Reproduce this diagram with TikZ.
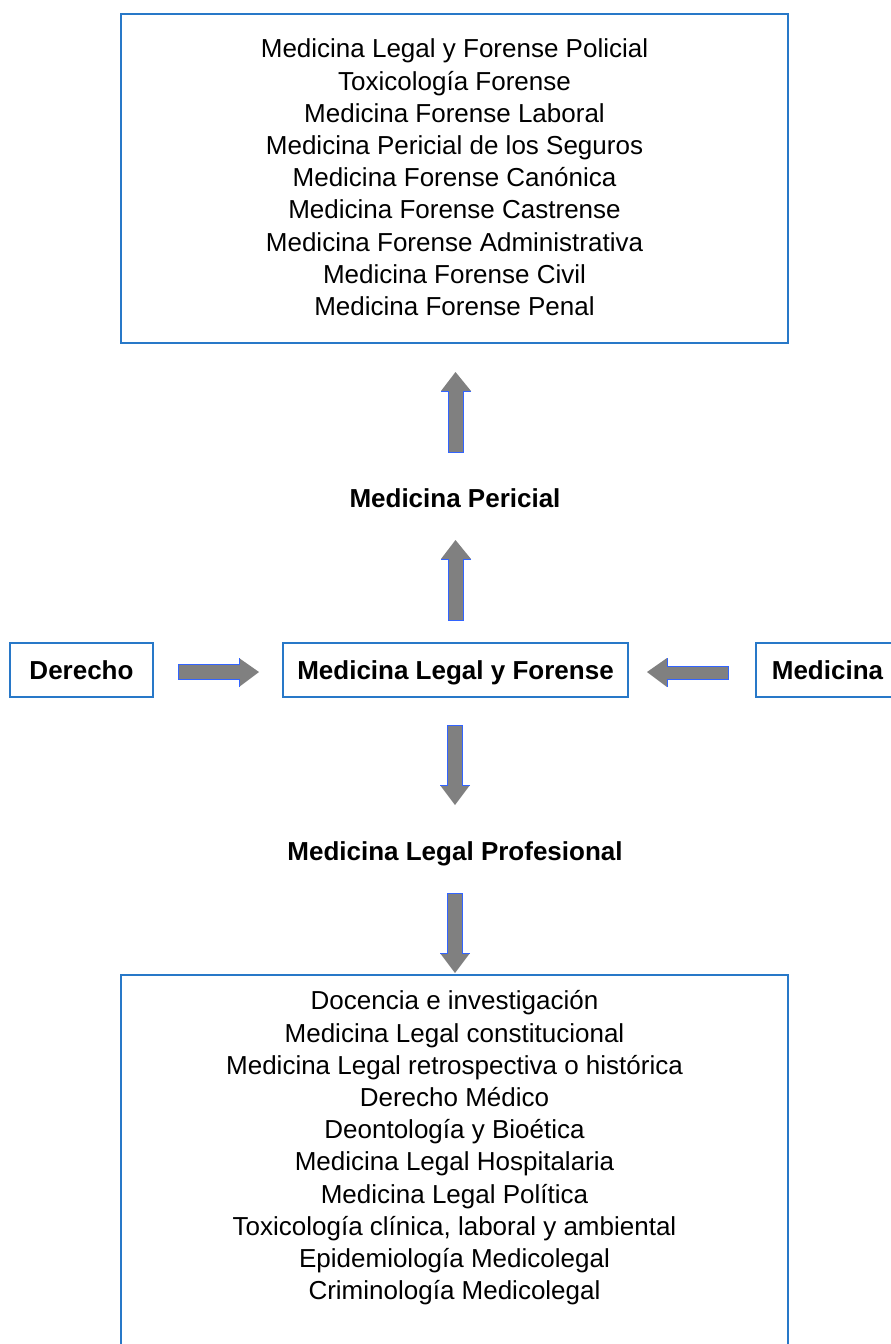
\documentclass[tikz,border=0pt]{standalone}
\usepackage{fontspec}
\setmainfont{Liberation Sans}
\definecolor{boxblue}{RGB}{40,120,200}
\definecolor{arrblue}{RGB}{50,100,255}
\definecolor{arrgray}{RGB}{128,128,128}
\tikzset{
  frame/.style={draw=boxblue, line width=1.4pt},
  listtext/.style={align=center, font=\fontsize{26}{32.2}\selectfont, inner sep=0pt},
  boldtext/.style={font=\fontsize{26}{32.2}\selectfont\bfseries, inner sep=0pt, text height=18.7pt, text depth=0pt},
  midbox/.style={frame, font=\fontsize{26}{32.2}\selectfont\bfseries, inner sep=0pt, minimum height=54pt, text height=18.7pt, text depth=0pt},
  arrfill/.style={fill=arrgray},
  arredge/.style={draw=arrblue, line width=1pt}
}
\begin{document}
\begin{tikzpicture}[x=1pt,y=-1pt]
\clip (0,0) rectangle (891,1344);
\fill[white] (0,0) rectangle (891,1344);
% top box
\draw[frame] (121,14) rectangle (788,343);
\node[listtext] (top) at (454.5,177.5) {Medicina Legal y Forense Policial\\Toxicología Forense\\Medicina Forense Laboral\\Medicina Pericial de los Seguros\\Medicina Forense Canónica\\Medicina Forense Castrense\\Medicina Forense Administrativa\\Medicina Forense Civil\\Medicina Forense Penal};
% bottom box
\draw[frame] (121,975) rectangle (788,1370);
\node[listtext] (bot) at (454.5,1148) {Docencia e investigación\\Medicina Legal constitucional\\Medicina Legal retrospectiva o histórica\\Derecho Médico\\Deontología y Bioética\\Medicina Legal Hospitalaria\\Medicina Legal Política\\Toxicología clínica, laboral y ambiental\\Epidemiología Medicolegal\\Criminología Medicolegal};
% labels
\node[boldtext] (peri) at (455,498) {Medicina Pericial};
\node[boldtext] (prof) at (455,851) {Medicina Legal Profesional};
% middle row
\node[midbox, minimum width=143pt] (der) at (81.5,670) {Derecho};
\node[midbox, minimum width=345pt] (mlf) at (455.5,670) {Medicina Legal y Forense};
\node[midbox, minimum width=143pt] (med) at (827.5,670) {Medicina};
% up arrow 1
\fill[arrfill] (455.5,372)--(471,391)--(463,391)--(463,452)--(448,452)--(448,391)--(441,391)--cycle;
\draw[arredge] (471,391)--(463,391)--(463,452)--(448,452)--(448,391)--(441,391);
% up arrow 2
\fill[arrfill] (455.5,540)--(471,559)--(463,559)--(463,620)--(448,620)--(448,559)--(441,559)--cycle;
\draw[arredge] (471,559)--(463,559)--(463,620)--(448,620)--(448,559)--(441,559);
% right arrow
\fill[arrfill] (178,664)--(239,664)--(239,658)--(259,672)--(239,687)--(239,679)--(178,679)--cycle;
\draw[arredge] (239,658)--(239,664)--(178,664)--(178,679)--(239,679)--(239,687);
% left arrow
\fill[arrfill] (728,666)--(667,666)--(667,658)--(647,672)--(667,687)--(667,679)--(728,679)--cycle;
\draw[arredge] (667,658)--(667,666)--(728,666)--(728,679)--(667,679)--(667,687);
% down arrow 1
\fill[arrfill] (447,725)--(462,725)--(462,785)--(470,785)--(455,805)--(440,785)--(447,785)--cycle;
\draw[arredge] (440,785)--(447,785)--(447,725)--(462,725)--(462,785)--(470,785);
% down arrow 2
\fill[arrfill] (447,893)--(462,893)--(462,953)--(470,953)--(455,973)--(440,953)--(447,953)--cycle;
\draw[arredge] (440,953)--(447,953)--(447,893)--(462,893)--(462,953)--(470,953);
\end{tikzpicture}
\end{document}
